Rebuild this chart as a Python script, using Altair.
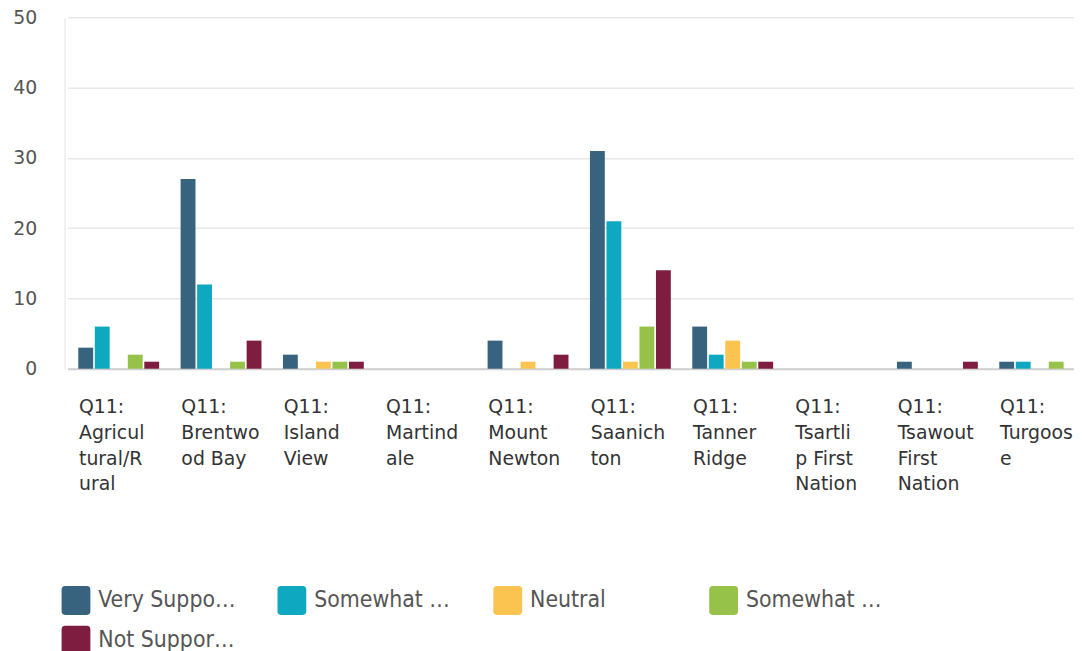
import altair as alt
import pandas as pd

CATEGORIES = [
    "Q11: Agricultural/Rural", "Q11: Brentwood Bay", "Q11: Island View",
    "Q11: Martindale", "Q11: Mount Newton", "Q11: Saanichton",
    "Q11: Tanner Ridge", "Q11: Tsartlip First Nation",
    "Q11: Tsawout First Nation", "Q11: Turgoose",
]
LABEL_LINES = [
    ["Q11:", "Agricul", "tural/R", "ural"],
    ["Q11:", "Brentwo", "od Bay"],
    ["Q11:", "Island", "View"],
    ["Q11:", "Martind", "ale"],
    ["Q11:", "Mount", "Newton"],
    ["Q11:", "Saanich", "ton"],
    ["Q11:", "Tanner", "Ridge"],
    ["Q11:", "Tsartli", "p First", "Nation"],
    ["Q11:", "Tsawout", "First", "Nation"],
    ["Q11:", "Turgoos", "e"],
]
SERIES = ["Very Supportive", "Somewhat Supportive", "Neutral",
          "Somewhat Unsupportive", "Not Supportive"]
VERY_SUPPORTIVE = [3, 27, 2, 0, 4, 31, 6, 0, 1, 1]
SOMEWHAT_SUPPORTIVE = [6, 12, 0, 0, 0, 21, 2, 0, 0, 1]
NEUTRAL = [0, 0, 1, 0, 1, 1, 4, 0, 0, 0]
SOMEWHAT_UNSUPPORTIVE = [2, 1, 1, 0, 0, 6, 1, 0, 0, 1]
NOT_SUPPORTIVE = [1, 4, 1, 0, 2, 14, 1, 0, 1, 0]
COLORS = ["#37637f", "#0ea8c0", "#fbc34f", "#96c24a", "#7e1d40"]
Y_TICKS = [0, 10, 20, 30, 40, 50]

values = [VERY_SUPPORTIVE, SOMEWHAT_SUPPORTIVE, NEUTRAL,
          SOMEWHAT_UNSUPPORTIVE, NOT_SUPPORTIVE]
rows = []
for s, vals in zip(SERIES, values):
    for c, v in zip(CATEGORIES, vals):
        rows.append({"region": c, "response": s, "count": v})
df = pd.DataFrame(rows)

names_js = "[" + ",".join("'" + c + "'" for c in CATEGORIES) + "]"
lines_js = "[" + ",".join("'" + "|".join(l) + "'" for l in LABEL_LINES) + "]"
label_expr = f"split({lines_js}[indexof({names_js}, datum.value)], '|')"

rounded = ("M-0.75,-1 H0.75 Q1,-1 1,-0.75 V0.75 Q1,1 0.75,1 H-0.75 "
           "Q-1,1 -1,0.75 V-0.75 Q-1,-1 -0.75,-1 Z")

chart = alt.Chart(df).mark_bar().encode(
    x=alt.X("region:N", sort=CATEGORIES,
            scale=alt.Scale(range=[3, 1034], paddingInner=0, paddingOuter=0),
            axis=alt.Axis(title=None, labelAngle=0, labelAlign="left",
                          labelBaseline="top", labelOffset=-40,
                          labelPadding=29, labelLineHeight=26,
                          labelExpr=label_expr, labelFont="DejaVu Sans",
                          labelFontSize=19, labelColor="#333333",
                          labelLimit=0, labelOverlap=False, labelBound=False,
                          ticks=False, domain=True, domainColor="#cfcfcf",
                          domainWidth=2, grid=False)),
    xOffset=alt.XOffset("response:N", sort=SERIES,
                        scale=alt.Scale(paddingInner=0.1, paddingOuter=0.65)),
    y=alt.Y("count:Q",
            scale=alt.Scale(domain=[0, 50], nice=False),
            axis=alt.Axis(title=None, values=Y_TICKS, ticks=False,
                          labelPadding=28, labelFont="DejaVu Sans",
                          labelFontSize=19, labelColor="#555555",
                          domain=True, domainColor="#e3e3e3",
                          gridColor="#e8e8e8", gridWidth=1.5)),
    color=alt.Color("response:N", sort=SERIES,
                    scale=alt.Scale(domain=SERIES, range=COLORS),
                    legend=alt.Legend(title=None, orient="none",
                                      legendX=-3, legendY=573,
                                      direction="horizontal", columns=4,
                                      gridAlign="all", columnPadding=41.5,
                                      rowPadding=11, symbolType=rounded,
                                      symbolSize=841, symbolStrokeWidth=0,
                                      labelFont="DejaVu Sans Condensed",
                                      labelFontSize=23, labelColor="#555555",
                                      labelLimit=140, labelOffset=8,
                                      padding=0)),
).properties(
    width=1017, height=354,
    autosize=alt.AutoSizeParams(type="none"),
    padding={"left": 57, "top": 7, "right": 0, "bottom": 290},
).configure_view(stroke=None)

chart.save("out.html", embed_options={"renderer": "svg", "actions": False})
